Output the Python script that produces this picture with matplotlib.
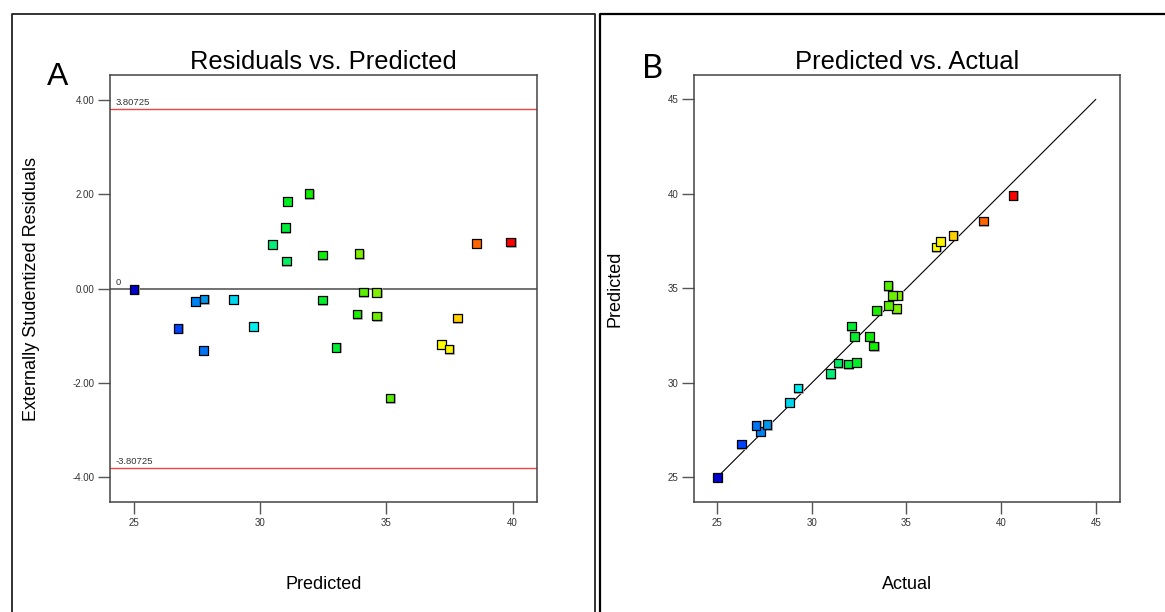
import matplotlib
matplotlib.use("Agg")
import matplotlib.pyplot as plt
from matplotlib.colors import LinearSegmentedColormap
from matplotlib.lines import Line2D
from matplotlib.ticker import FormatStrFormatter
import matplotlib.transforms as mtransforms

plt.rcParams['font.family'] = ['Liberation Sans', 'DejaVu Sans']
plt.rcParams['axes.unicode_minus'] = False

# run data: predicted, actual, externally studentized residual
predicted = [25.00, 26.75, 27.43, 27.78, 27.75, 28.95, 29.73, 30.48, 31.00, 31.09,
             31.05, 31.94, 32.46, 32.46, 33.01, 33.92, 33.84, 34.10, 34.62, 34.62,
             35.14, 37.19, 37.48, 37.81, 38.57, 39.93]
actual = [25.00, 26.27, 27.29, 27.64, 27.05, 28.81, 29.27, 30.99, 31.94, 32.35,
          31.38, 33.27, 33.04, 32.24, 32.08, 34.47, 33.43, 34.06, 34.55, 34.25,
          34.03, 36.56, 36.79, 37.45, 39.07, 40.64]
residuals = [-0.02, -0.84, -0.27, -0.22, -1.31, -0.23, -0.80, 0.94, 1.29, 1.85,
             0.59, 2.01, 0.71, -0.24, -1.25, 0.74, -0.54, -0.07, -0.08, -0.58,
             -2.32, -1.18, -1.28, -0.62, 0.96, 0.99]
limit = 3.80725

res_ticks = [-4, -2, 0, 2, 4]
pred_ticks = [25, 30, 35, 40]
pva_ticks = [25, 30, 35, 40, 45]

cmap = LinearSegmentedColormap.from_list('de', [
    (0.0, '#0000cc'), (0.08, '#0044ff'), (0.17, '#0099ee'), (0.27, '#00eeee'),
    (0.45, '#00ee33'), (0.53, '#11ee00'), (0.6, '#77ee00'), (0.74, '#ffff00'),
    (0.8, '#ffcc00'), (0.9, '#ff6600'), (1.0, '#ff0000')])
vmin, vmax = min(actual), max(actual)

W, H = 1165, 612
fig = plt.figure(figsize=(W / 100, H / 100), dpi=100)

def px_rect(l, t, r, b):
    return [l / W, 1 - b / H, (r - l) / W, (b - t) / H]

axA = fig.add_axes(px_rect(110, 75.3, 536.5, 502))
axB = fig.add_axes(px_rect(693.8, 75.3, 1120.3, 502))

# panel frames
fig.add_artist(Line2D([11.7 / W, 11.7 / W, 595 / W, 595 / W], [0, 1 - 14 / H, 1 - 14 / H, 0],
                      transform=fig.transFigure, color='#222222', lw=1.3))
fig.add_artist(Line2D([600 / W, 600 / W, 1.01], [0, 1 - 14 / H, 1 - 14 / H],
                      transform=fig.transFigure, color='black', lw=1.6))


def squares(ax, x, y):
    shadow = mtransforms.offset_copy(ax.transData, fig=fig, x=0.8, y=-0.8, units='dots')
    ax.scatter(x, y, marker='s', s=58, color='#b5b5b5', lw=0, transform=shadow, zorder=3)
    ax.scatter(x, y, marker='s', s=38, c=actual, cmap=cmap, vmin=vmin, vmax=vmax,
               edgecolors='black', linewidths=0.9, zorder=4)


def style(ax):
    for s in ax.spines.values():
        s.set_color('#444444')
        s.set_linewidth(1.1)
    ax.tick_params(direction='out', length=8.3, width=1.0, color='#555555',
                   labelsize=7, labelcolor='#333333', pad=3)


# A: residuals vs predicted
squares(axA, predicted, residuals)
axA.axhline(0, color='#666666', lw=1.3, zorder=2)
axA.axhline(limit, color='#ee4444', lw=1.0, zorder=2)
axA.axhline(-limit, color='#ee4444', lw=1.0, zorder=2)
blend = mtransforms.blended_transform_factory(axA.transAxes, axA.transData)
for v, lab in [(limit, '3.80725'), (0, '0'), (-limit, '-3.80725')]:
    axA.annotate(lab, xy=(0, v), xycoords=blend, xytext=(4, 1.5), textcoords='offset points',
                 ha='left', va='bottom', fontsize=6.8, color='#333333')
axA.set_xlim(24.05, 40.95)
axA.set_ylim(-4.52, 4.52)
axA.set_xticks(pred_ticks)
axA.set_yticks(res_ticks)
axA.yaxis.set_major_formatter(FormatStrFormatter('%.2f'))
style(axA)
axA.set_title('Residuals vs. Predicted', fontsize=18.4, pad=4.2)
axA.set_xlabel('Predicted', fontsize=13, va='top')
axA.xaxis.set_label_coords(0.5, -0.1727)
axA.set_ylabel('Externally Studentized Residuals', fontsize=13)
axA.yaxis.label.set_va('center')
axA.yaxis.set_label_coords(-0.1843, 0.5)

# B: predicted vs actual
axB.plot([25, 45], [25, 45], color='black', lw=0.8, zorder=2)
squares(axB, actual, predicted)
axB.set_xlim(23.76, 46.3)
axB.set_ylim(23.69, 46.28)
axB.set_xticks(pva_ticks)
axB.set_yticks(pva_ticks)
style(axB)
axB.set_title('Predicted vs. Actual', fontsize=18.4, pad=4.2)
axB.set_xlabel('Actual', fontsize=13, va='top')
axB.xaxis.set_label_coords(0.5, -0.1727)
axB.set_ylabel('Predicted', fontsize=13)
axB.yaxis.label.set_va('center')
axB.yaxis.set_label_coords(-0.1852, 0.5)

fig.text(46.7 / W, 1 - 85 / H, 'A', fontsize=23, ha='left', va='baseline')
fig.text(641.6 / W, 1 - 78 / H, 'B', fontsize=23.5, ha='left', va='baseline',
         family=['Lato', 'DejaVu Sans'])

fig.savefig('out.png', dpi=100)
